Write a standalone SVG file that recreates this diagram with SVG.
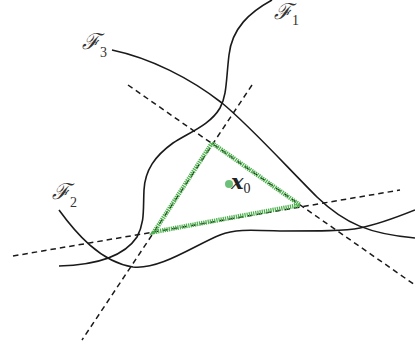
<svg xmlns="http://www.w3.org/2000/svg" width="415" height="352" viewBox="0 0 415 352">
<style>
.curve{fill:none;stroke:#1a1a1a;stroke-width:1.6}
.dash{fill:none;stroke:#1a1a1a;stroke-width:1.5;stroke-dasharray:5.5 4}
.tri{fill:none;stroke:#4cb04c;stroke-width:4.5;stroke-dasharray:1.3 0.9}
.lbl{font-family:"DejaVu Serif","Liberation Serif",serif;font-style:italic;fill:#333;font-size:22px}
.sub{font-family:"Liberation Serif",serif;font-style:normal;font-size:14px}
</style>
<rect width="415" height="352" fill="#fff"/>
<g id="connectors">
<path class="dash" d="M128,85 L415,285"/>
<path class="dash" d="M252,85 L82,340"/>
<path class="dash" d="M13,256 L400,190"/>
</g>
<g id="F1">
<path class="curve" d="M272,0 C250,12 232,28 229,55 C226,80 227,95 220,108 C210,125 190,132 173,143 C155,156 145,170 144,190 C143,210 145,222 137,237 C125,255 100,265 59,266"/>
<text class="lbl" x="274" y="19">ℱ<tspan class="sub" dy="6">1</tspan></text>
</g>
<g id="F3">
<path class="curve" d="M112,50 C150,58 190,78 222,103 C250,126 285,165 317,197 C345,224 370,234 415,238"/>
<text class="lbl" x="82" y="49">ℱ<tspan class="sub" dy="8">3</tspan></text>
</g>
<g id="F2">
<path class="curve" d="M59,210 C75,232 100,262 133,267 C160,270 195,245 220,235 C235,229 250,230 280,231 C320,231 345,231 360,228 C380,224 400,216 415,210"/>
<text class="lbl" x="52" y="199">ℱ<tspan class="sub" dy="8">2</tspan></text>
</g>
<g id="triangle">
<path class="tri" d="M212,143 L300,205 L154,232 Z"/>
</g>
<g id="x0">
<circle cx="229" cy="184" r="4" fill="#6cc07a"/>
<text x="231" y="189" font-family="DejaVu Serif,serif" font-style="italic" font-weight="bold" font-size="21" fill="#222">x<tspan font-family="Liberation Serif,serif" font-style="normal" font-weight="normal" font-size="14" dy="4">0</tspan></text>
</g>
</svg>
